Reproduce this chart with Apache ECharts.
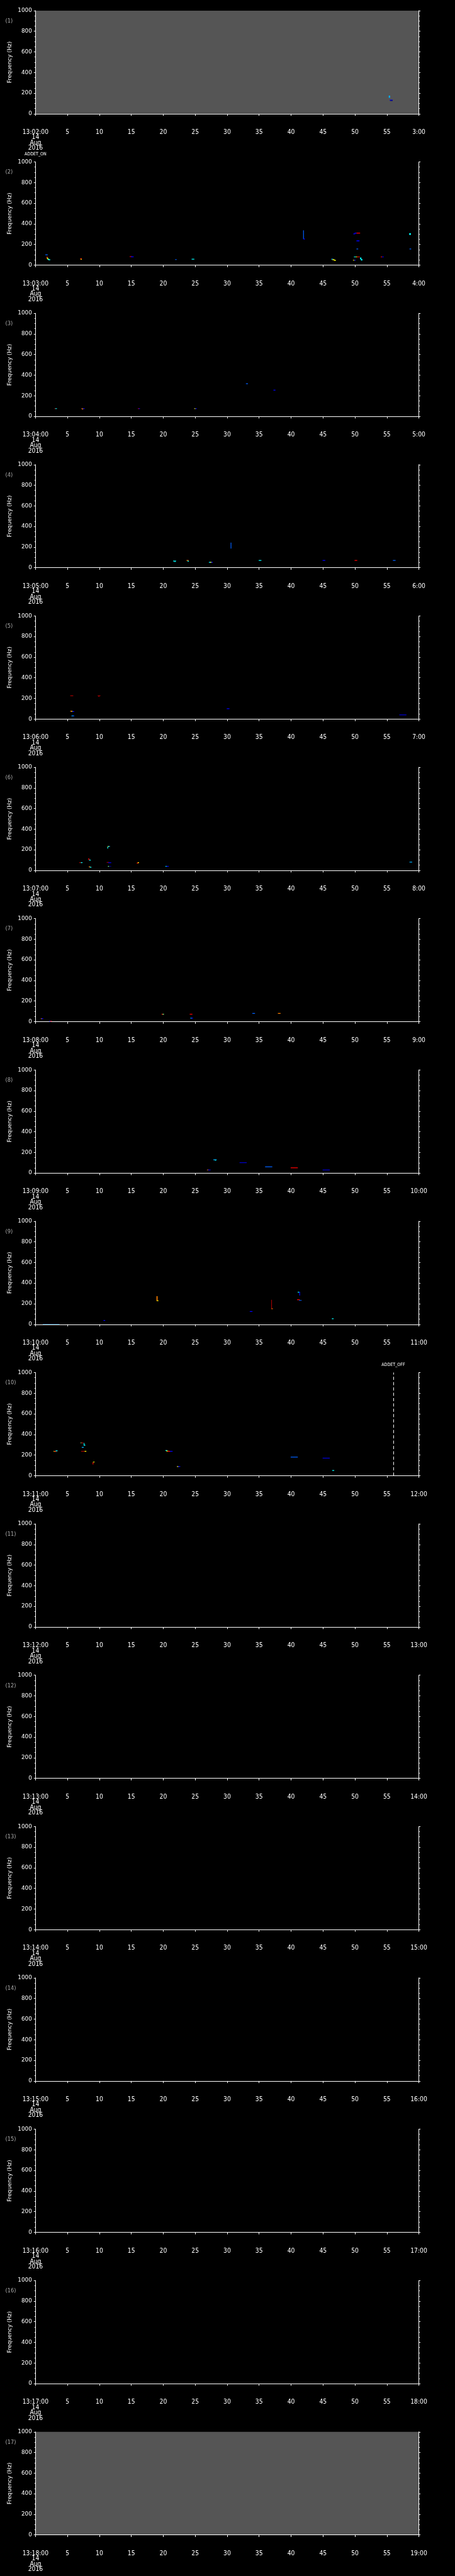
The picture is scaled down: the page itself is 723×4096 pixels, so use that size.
<!DOCTYPE html>
<html>
<head>
<meta charset="utf-8">
<script src="https://cdn.jsdelivr.net/npm/echarts@6/dist/echarts.min.js"></script>
<style>
  html, body { margin: 0; padding: 0; background: #000; }
  #chart { width: 723px; height: 4096px; }
</style>
</head>
<body>
<div id="chart"></div>
<script>
// start / end time labels of each one-minute panel
const panelStart = ['13:02:00', '13:03:00', '13:04:00', '13:05:00', '13:06:00', '13:07:00', '13:08:00', '13:09:00',
  '13:10:00', '13:11:00', '13:12:00', '13:13:00', '13:14:00', '13:15:00', '13:16:00', '13:17:00', '13:18:00']
const panelEnd = ['3:00', '4:00', '5:00', '6:00', '7:00', '8:00', '9:00', '10:00', '11:00', '12:00',
  '13:00', '14:00', '15:00', '16:00', '17:00', '18:00', '19:00']
const dateLines = ['14', 'Aug', '2016']
const grayPanels = [1, 17]

// detector events: panel, second, name
const eventPanels = [2, 10]
const eventTimes = [0, 56]
const eventNames = ['ADDET_ON', 'ADDET_OFF']

// marks: [t0 (s), f0 (Hz), t1 (s), f1 (Hz), level 0..9]
const marks1 = [[55.35, 172, 55.45, 158, 3], [55.5, 132, 55.85, 132, 1], [55.55, 128, 55.85, 128, 0]]
const marks2 = [
  [1.6, 99, 1.85, 99, 2], [1.75, 75, 1.85, 75, 8], [1.85, 70, 1.9, 62, 6], [1.95, 58, 2.05, 55, 5],
  [2.05, 52, 2.25, 50, 4], [7.05, 62, 7.2, 62, 8], [7.1, 56, 7.2, 56, 6], [14.8, 82, 15.0, 82, 8],
  [15.0, 80, 15.3, 80, 1], [21.9, 53, 22.05, 53, 2], [24.5, 57, 24.8, 57, 4], [41.95, 333, 41.95, 256, 2],
  [42.0, 254, 42.1, 252, 1], [46.35, 57, 46.55, 57, 3], [46.55, 53, 46.75, 50, 6], [46.8, 46, 46.95, 44, 6],
  [49.8, 303, 50.0, 303, 1], [50.0, 310, 50.3, 310, 1], [50.3, 310, 50.75, 310, 8], [50.3, 234, 50.65, 236, 1],
  [50.3, 156, 50.45, 156, 2], [49.9, 79, 50.2, 79, 4], [50.2, 79, 50.4, 79, 6], [50.4, 79, 50.7, 79, 8],
  [50.85, 70, 50.95, 60, 4], [51.0, 55, 51.1, 48, 4], [49.75, 47, 49.95, 47, 6], [49.95, 48, 50.05, 48, 1],
  [54.1, 79, 54.3, 79, 8], [54.3, 79, 54.45, 79, 1], [58.55, 305, 58.7, 296, 4], [58.6, 156, 58.75, 156, 2]
]
const marks3 = [
  [3.0, 75, 3.15, 75, 9], [3.15, 75, 3.3, 75, 4], [7.25, 75, 7.45, 75, 7], [7.35, 69, 7.4, 69, 7],
  [7.45, 75, 7.65, 75, 1], [16.1, 75, 16.2, 75, 8], [16.2, 75, 16.3, 75, 1], [24.9, 75, 25.05, 75, 6],
  [25.05, 75, 25.2, 75, 1], [33.0, 317, 33.2, 317, 2], [37.3, 254, 37.5, 254, 1]
]
const marks4 = [
  [21.6, 65, 21.95, 65, 4], [21.8, 60, 21.85, 60, 4], [23.7, 70, 23.9, 70, 7], [23.85, 63, 23.95, 63, 4],
  [27.2, 52, 27.4, 52, 4], [27.4, 52, 27.55, 52, 6], [27.55, 52, 27.7, 52, 1], [30.6, 240, 30.6, 190, 2],
  [35.0, 70, 35.3, 70, 4], [45.0, 70, 45.3, 70, 1], [50.0, 70, 50.3, 70, 8], [56.0, 70, 56.3, 70, 2]
]
const marks5 = [
  [5.5, 225, 5.85, 225, 9], [9.8, 225, 10.1, 225, 9], [9.9, 221, 9.95, 221, 9], [5.5, 76, 5.7, 76, 7],
  [5.7, 73, 5.8, 73, 6], [5.8, 73, 6.0, 73, 1], [5.7, 30, 5.85, 30, 3], [5.85, 30, 6.0, 30, 2],
  [30.0, 100, 30.3, 100, 1], [57.0, 40, 58.0, 40, 1]
]
const marks6 = [
  [6.9, 75, 7.15, 75, 9], [7.15, 75, 7.3, 75, 4], [8.3, 112, 8.35, 112, 8], [8.35, 103, 8.45, 103, 8],
  [8.45, 99, 8.6, 99, 4], [8.4, 34, 8.55, 34, 7], [8.55, 30, 8.7, 30, 4], [11.3, 215, 11.3, 224, 4],
  [11.35, 232, 11.45, 232, 6], [11.45, 232, 11.6, 232, 3], [11.2, 77, 11.45, 77, 9], [11.45, 74, 11.8, 74, 1],
  [11.4, 39, 11.55, 39, 5], [11.55, 39, 11.8, 39, 0], [15.9, 70, 16.05, 70, 8], [16.05, 75, 16.15, 75, 6],
  [20.4, 39, 20.55, 39, 4], [20.55, 39, 20.8, 39, 1], [58.6, 80, 58.9, 80, 3]
]
const marks7 = [
  [0.9, 30, 1.0, 30, 7], [1.0, 30, 1.15, 30, 1], [2.2, 4, 2.35, 4, 1], [2.35, 4, 2.5, 4, 8],
  [19.8, 73, 19.95, 73, 8], [19.95, 73, 20.05, 73, 5], [24.2, 73, 24.5, 73, 8], [24.3, 34, 24.45, 34, 3],
  [24.45, 34, 24.6, 34, 1], [34.0, 80, 34.3, 80, 2], [38.0, 80, 38.3, 80, 7]
]
const marks8 = [
  [26.9, 30, 27.05, 30, 7], [27.05, 30, 27.35, 30, 1], [27.9, 128, 28.3, 128, 3], [28.15, 124, 28.2, 124, 4],
  [32.0, 100, 33.0, 100, 1], [36.0, 60, 37.0, 60, 2], [40.0, 50, 41.0, 50, 8], [45.0, 30, 46.0, 30, 1]
]
const marks9 = [
  [1.2, 0, 3.7, 0, 3], [10.7, 37, 10.85, 37, 1], [19.0, 269, 19.05, 229, 7], [19.05, 229, 19.2, 229, 6],
  [33.6, 125, 33.9, 125, 1], [36.95, 235, 36.95, 151, 9], [37.0, 151, 37.1, 151, 7], [41.0, 239, 41.3, 239, 8],
  [41.3, 232, 41.6, 232, 2], [41.1, 312, 41.25, 312, 4], [41.35, 312, 41.35, 283, 1], [46.45, 54, 46.6, 54, 4]
]
const marks10 = [
  [2.9, 236, 3.2, 236, 6], [3.0, 236, 3.2, 236, 8], [3.2, 241, 3.4, 241, 4], [7.1, 318, 7.2, 318, 5],
  [7.2, 317, 7.45, 317, 9], [7.6, 313, 7.6, 296, 4], [7.6, 296, 7.75, 296, 4], [7.3, 275, 7.5, 275, 3],
  [7.2, 236, 7.75, 236, 9], [7.75, 236, 7.9, 236, 6], [9.0, 126, 9.0, 112, 8], [9.05, 132, 9.2, 132, 6],
  [20.4, 244, 20.55, 244, 4], [20.55, 238, 20.75, 238, 6], [20.75, 236, 21.1, 236, 8], [21.1, 236, 21.4, 236, 1],
  [22.2, 88, 22.35, 88, 6], [22.35, 88, 22.6, 88, 1], [40.0, 180, 41.0, 180, 2], [45.0, 170, 46.0, 170, 1],
  [46.5, 50, 46.7, 50, 4]
]
const marks11 = []
const marks12 = []
const marks13 = []
const marks14 = []
const marks15 = []
const marks16 = []
const marks17 = []
const panelMarks = [marks1, marks2, marks3, marks4, marks5, marks6, marks7, marks8, marks9,
  marks10, marks11, marks12, marks13, marks14, marks15, marks16, marks17]

const jet = ['#00007f', '#0000ff', '#0060ff', '#00b0ff', '#00ffff', '#7fff7f', '#ffff00', '#ff8000', '#ff0000', '#9f0000']

const S = 0.705
const NARROW = '"DejaVu Sans Condensed", "Liberation Sans Narrow", "DejaVu Sans", sans-serif'
const PLAIN = '"DejaVu Sans", sans-serif'

function renderMark(params, api) {
  const a = api.coord([api.value(0), api.value(1)])
  const b = api.coord([api.value(2), api.value(3)])
  return {
    type: 'rect',
    shape: {
      x: Math.min(a[0], b[0]) - 0.6,
      y: Math.min(a[1], b[1]) - 0.6,
      width: Math.abs(a[0] - b[0]) + 1.2,
      height: Math.abs(a[1] - b[1]) + 1.2,
    },
    style: { fill: jet[api.value(4)] },
  }
}

const grids = []
const xAxes = []
const yAxes = []
const series = []
const graphics = []

panelStart.forEach((start, i) => {
  const top = S * (24 + i * 341.3)
  const height = S * 232.5
  const gray = grayPanels.indexOf(i + 1) >= 0
  grids.push({
    left: S * 80, width: S * 864, top, height,
    show: gray, backgroundColor: '#555555', borderWidth: 0,
  })
  xAxes.push({
    gridIndex: i, type: 'value', min: 0, max: 60, interval: 5,
    position: 'bottom', offset: S * 23.8,
    axisLine: { show: true, lineStyle: { color: '#fff', width: 1 } },
    axisTick: { show: true, length: S * 4.7, lineStyle: { color: '#fff' } },
    splitLine: { show: false },
    axisLabel: {
      color: '#fff', fontSize: S * 14.5, fontFamily: NARROW, lineHeight: S * 12,
      margin: S * 12, showMinLabel: true, showMaxLabel: true,
      formatter: (v) => {
        if (v === 0) return [start].concat(dateLines).join('\n')
        if (v === 60) return panelEnd[i]
        return String(v)
      },
    },
  })
  const yBase = {
    gridIndex: i, type: 'value', min: 0, max: 1000, interval: 200,
    axisLine: { show: true, lineStyle: { color: '#fff', width: 1 } },
    axisTick: { show: true, inside: false, length: S * 3.7, lineStyle: { color: '#fff' } },
    minorTick: { show: true, splitNumber: 4, length: S * 2.2, lineStyle: { color: '#fff' } },
    splitLine: { show: false },
    minorSplitLine: { show: false },
  }
  yAxes.push(Object.assign({}, yBase, {
    position: 'left',
    axisLabel: {
      color: '#fff', fontSize: S * 12.5, fontFamily: PLAIN, margin: S * 8,
      formatter: (v) => String(v),
    },
  }))
  yAxes.push(Object.assign({}, yBase, { position: 'right', axisLabel: { show: false } }))

  series.push({
    type: 'custom', xAxisIndex: i, yAxisIndex: 2 * i,
    renderItem: renderMark, clip: true,
    encode: { x: [0, 2], y: [1, 3] },
    data: panelMarks[i],
  })

  const ev = eventPanels.indexOf(i + 1)
  if (ev >= 0) {
    series.push({
      type: 'line', xAxisIndex: i, yAxisIndex: 2 * i, data: [],
      markLine: {
        silent: true, symbol: 'none', animation: false,
        lineStyle: { color: '#fff', width: 1, type: [S * 7, S * 5] },
        label: {
          show: true, position: 'end', distance: S * 12,
          color: '#fff', fontSize: S * 10, fontFamily: NARROW,
          formatter: eventNames[ev],
        },
        data: [[{ coord: [eventTimes[ev], 0] }, { coord: [eventTimes[ev], 1000] }]],
      },
    })
  }

  graphics.push({
    type: 'text', left: S * 12, top: top + S * 17,
    style: { text: '(' + (i + 1) + ')', fill: '#a8a8a8', fontSize: S * 13, fontFamily: NARROW },
  })
  graphics.push({
    type: 'text', x: S * 23, y: top + height / 2, rotation: Math.PI / 2,
    style: {
      text: 'Frequency (Hz)', fill: '#fff', fontSize: S * 12.5, fontFamily: PLAIN,
      align: 'center', verticalAlign: 'middle',
    },
  })
})

const chart = echarts.init(document.getElementById('chart'))
chart.setOption({
  backgroundColor: '#000',
  animation: false,
  grid: grids,
  xAxis: xAxes,
  yAxis: yAxes,
  series,
  graphic: graphics,
})
</script>
</body>
</html>
